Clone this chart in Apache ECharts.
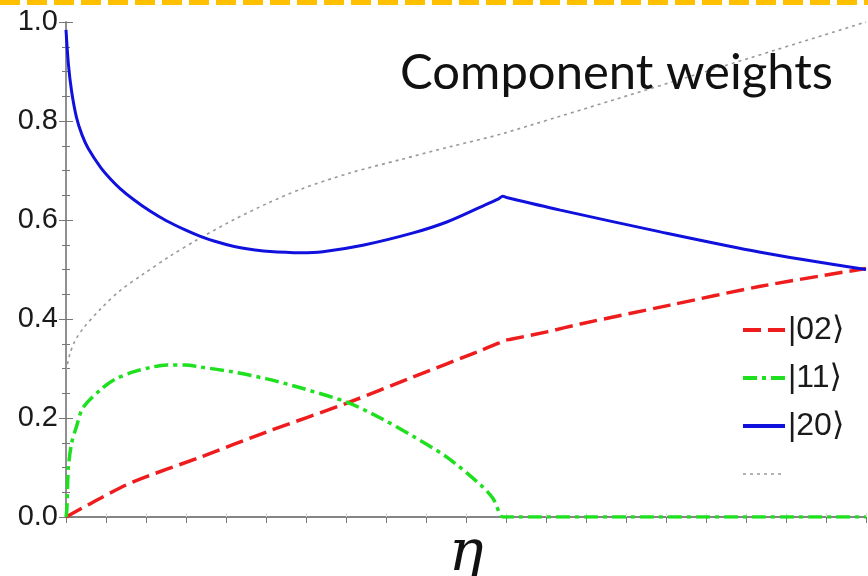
<!DOCTYPE html>
<html>
<head>
<meta charset="utf-8">
<script src="https://cdn.jsdelivr.net/npm/echarts@6/dist/echarts.min.js"></script>
<style>
  html, body { margin: 0; padding: 0; background: #ffffff; }
  #chart { width: 868px; height: 576px; }
</style>
</head>
<body>
<div id="chart"></div>
<script>
// Component weights of the two-particle state versus the coupling parameter eta.
const yTicks = [0.0, 0.2, 0.4, 0.6, 0.8, 1.0];
const seriesNames = ['|02\u27E9', '|11\u27E9', '|20\u27E9', ' '];

// |02> weight
const eta02 = [0.000, 0.043, 0.084, 0.168, 0.251, 0.351, 0.434, 0.518, 0.542, 0.549, 0.556, 0.601, 0.643, 0.755, 0.868, 1.000];
const w02   = [0.000, 0.038, 0.071, 0.121, 0.172, 0.230, 0.283, 0.336, 0.352, 0.357, 0.359, 0.374, 0.390, 0.428, 0.466, 0.502];

// |11> weight
const eta11 = [0.000, 0.001, 0.003, 0.007, 0.013, 0.021, 0.043, 0.061, 0.084, 0.105, 0.126, 0.149, 0.168, 0.209, 0.251, 0.293, 0.351, 0.393, 0.434, 0.476, 0.518, 0.534, 0.546, 0.552, 0.700, 0.850, 1.000];
const w11   = [0.000, 0.014, 0.100, 0.149, 0.182, 0.220, 0.257, 0.278, 0.293, 0.302, 0.307, 0.307, 0.303, 0.293, 0.279, 0.261, 0.232, 0.200, 0.163, 0.121, 0.065, 0.037, 0.000, 0.000, 0.000, 0.000, 0.000];

// |20> weight
const eta20 = [0.000, 0.003, 0.007, 0.013, 0.020, 0.028, 0.043, 0.055, 0.068, 0.084, 0.105, 0.126, 0.149, 0.168, 0.186, 0.209, 0.230, 0.251, 0.293, 0.321, 0.371, 0.434, 0.476, 0.518, 0.540, 0.546, 0.552, 0.618, 0.743, 0.868, 1.000];
const w20   = [0.984, 0.915, 0.860, 0.808, 0.772, 0.744, 0.707, 0.684, 0.663, 0.642, 0.618, 0.598, 0.580, 0.567, 0.557, 0.547, 0.541, 0.537, 0.534, 0.536, 0.549, 0.574, 0.596, 0.626, 0.642, 0.648, 0.645, 0.620, 0.576, 0.535, 0.500];

// unlabelled dotted reference curve
const etaRef = [0.000, 0.005, 0.011, 0.021, 0.043, 0.068, 0.096, 0.130, 0.164, 0.209, 0.251, 0.293, 0.355, 0.418, 0.480, 0.549, 1.000];
const wRef   = [0.295, 0.330, 0.355, 0.380, 0.420, 0.458, 0.490, 0.527, 0.560, 0.600, 0.633, 0.662, 0.695, 0.722, 0.748, 0.776, 1.000];

const pairs = (xs, ys) => xs.map((x, i) => [x, ys[i]]);

const chart = echarts.init(document.getElementById('chart'), null, { renderer: 'canvas' });

const tickColor = '#777';
const sideAxisY = (pos, labels) => ({
  type: 'value', position: pos, min: 0, max: 1, interval: 0.2,
  axisLine: { show: true, lineStyle: { color: '#888', width: 1.5 } },
  axisTick: { show: true, inside: true, length: 7, lineStyle: { color: tickColor } },
  minorTick: { show: true, splitNumber: 4, length: 4, lineStyle: { color: tickColor } },
  splitLine: { show: false },
  axisLabel: labels ? {
    show: true, fontSize: 29, color: '#1a1a1a', margin: 8,
    fontFamily: 'Liberation Sans, Arial, sans-serif',
    formatter: v => {
      const hit = yTicks.find(t => Math.abs(t - v) < 1e-9);
      return hit === undefined ? '' : hit.toFixed(1);
    }
  } : { show: false }
});

const colors = ['#ee1c1c', '#1ee01e', '#1111dd', '#999999'];
const widths = [3.5, 3.5, 3, 1.6];
const dashes = [[18, 7], [14, 5, 4, 5], 'solid', [3, 4]];

const curve = (i, xs, ys, z) => ({
  name: seriesNames[i], type: 'line', symbol: 'none', showSymbol: false,
  smooth: 0.3,
  data: pairs(xs, ys),
  lineStyle: { color: colors[i], width: widths[i], type: dashes[i] },
  itemStyle: { color: colors[i] }, z
});

const legendWidths = [4, 4, 4, 1.6];

chart.setOption({
  animation: false,
  backgroundColor: '#ffffff',
  grid: { left: 66, right: 2, top: 22, bottom: 59, outerBoundsMode: 'none', containLabel: false },
  title: {
    text: 'Component weights',
    right: 30, top: 44,
    textStyle: { fontFamily: 'Lato, Open Sans, sans-serif', fontWeight: 'normal', fontSize: 49, color: '#111' }
  },
  legend: {
    orient: 'vertical',
    left: 736, top: 309,
    itemWidth: 42, itemHeight: 14, itemGap: 16,
    data: seriesNames.map((n, i) => ({
      name: n,
      lineStyle: { width: legendWidths[i], type: dashes[i], color: colors[i] }
    })),
    itemStyle: { opacity: 0 },
    textStyle: { fontSize: 32, lineHeight: 32, color: '#1a1a1a', fontFamily: 'Liberation Sans, DejaVu Sans, sans-serif', padding: [0, 0, 0, -2] }
  },
  xAxis: [
    {
      type: 'value', position: 'bottom', min: 0, max: 1, interval: 0.05,
      axisLine: { show: true, lineStyle: { color: '#555', width: 1.5 } },
      axisTick: { show: true, inside: true, length: 4, lineStyle: { color: '#dddddd' } },
      axisLabel: { show: false },
      splitLine: { show: false },
      name: '\u03B7', nameLocation: 'middle', nameGap: 9,
      nameTextStyle: { fontSize: 58, fontStyle: 'italic', fontFamily: 'DejaVu Serif, Liberation Serif, serif', color: '#111' }
    },
    {
      type: 'value', position: 'top', min: 0, max: 1, interval: 0.05,
      axisLine: { show: true, lineStyle: { color: '#888', width: 1.5 } },
      axisTick: { show: true, inside: true, length: 6, lineStyle: { color: tickColor } },
      axisLabel: { show: false },
      splitLine: { show: false }
    }
  ],
  yAxis: [sideAxisY('left', true), sideAxisY('right', false)],
  series: [
    curve(0, eta02, w02, 3),
    curve(1, eta11, w11, 4),
    curve(2, eta20, w20, 5),
    curve(3, etaRef, wRef, 2)
  ],
  graphic: [
    {
      type: 'line', silent: true,
      shape: { x1: 0, y1: 2.5, x2: 868, y2: 2.5 },
      style: { stroke: '#ffc000', lineWidth: 5, lineDash: [20, 7] }
    }
  ]
});
</script>
</body>
</html>
